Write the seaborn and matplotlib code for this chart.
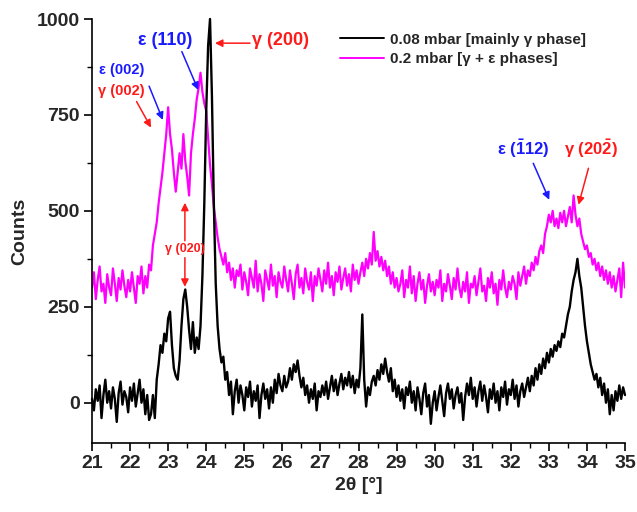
import numpy as np
import pandas as pd
import matplotlib
matplotlib.use("Agg")
import matplotlib.pyplot as plt
import seaborn as sns

# ---------------- data (2theta from 21.00 to 35.00, step 0.05) ----------------
black_counts = [
    # 21.xx
    10, -20, 35, 5, 45, -40, 20, 60, 0, 30, -15, 40, 10, -50, 25, 55, -5, 30, 15, -25,
    # 22.xx
    40, 5, 50, -10, 25, 60, 0, 35, -30, 20, -45, -30, 20, -40, 60, 100, 150, 130, 180, 160,
    # 23.xx
    220, 237, 150, 90, 70, 60, 110, 200, 270, 295, 250, 190, 140, 210, 130, 170, 140, 200, 330, 520,
    # 24.xx
    760, 930, 1000, 800, 520, 310, 200, 140, 105, 120, 60, 80, 20, 55, -30, 30, 60, 0, 45, 20,
    # 25.xx
    -20, 40, 15, 55, -10, 30, 5, 45, -40, 20, 50, 10, 35, -15, 40, 0, 60, 25, 75, 45,
    # 26.xx
    30, 70, 40, 55, 90, 60, 100, 80, 110, 70, 40, 65, 20, 45, 0, 35, 10, 50, -20, 30,
    # 27.xx
    15, 45, 20, 55, 10, 40, 70, 30, 60, 20, 50, 75, 35, 65, 45, 80, 40, 70, 25, 60,
    # 28.xx
    40, 90, 230, 60, -10, 40, 20, 55, 70, 45, 85, 60, 100, 75, 115, 80, 55, 90, 30, 60,
    # 29.xx
    15, 45, 5, 35, -15, 40, 20, 55, 0, 30, -20, 40, 10, -30, 25, 50, -10, 20, -55, 0,
    # 30.xx
    30, -20, 15, 45, 5, -35, 25, 50, 10, 35, -15, 20, 40, 0, 25, -45, 15, 50, 20, 65,
    # 31.xx
    10, 40, -10, 30, 55, 5, 45, 15, -25, 35, 10, 50, 0, 30, -20, 40, 15, 55, -5, 35,
    # 32.xx
    20, 60, 10, 45, -10, 30, 50, 15, 40, 65, 30, 70, 45, 90, 60, 100, 75, 115, 90, 130,
    # 33.xx
    105, 140, 120, 150, 135, 160, 145, 180, 170, 200, 230, 250, 290, 320, 340, 375, 330, 300, 250, 200,
    # 34.xx
    160, 130, 100, 80, 60, 75, 40, 65, 20, 50, 0, 35, -30, 20, -20, 30, 5, 45, 10, 40,
    # 35.00
    20,
]

pink_counts = [
    # 21.xx
    300, 340, 270, 320, 355, 290, 310, 260, 335, 300, 280, 350, 310, 265, 325, 295, 345, 305, 275, 320,
    # 22.xx
    290, 340, 300, 260, 330, 310, 355, 285, 330, 300, 360, 345, 410, 440, 470, 520, 560, 600, 650, 700,
    # 23.xx
    770, 700, 660, 600, 550, 600, 650, 610, 700, 630, 590, 540, 650, 700, 740, 790, 820, 860, 810, 780,
    # 24.xx
    760, 690, 620, 570, 510, 470, 430, 400, 380, 360, 390, 340, 365, 320, 350, 300, 345, 330, 360, 295,
    # 25.xx
    340, 315, 280, 350, 325, 300, 370, 290, 335, 310, 265, 345, 320, 295, 360, 305, 330, 275, 340, 315,
    # 26.xx
    300, 355, 320, 290, 345, 310, 270, 335, 360, 300, 325, 285, 350, 315, 295, 340, 265, 330, 305, 350,
    # 27.xx
    320, 290, 345, 310, 365, 300, 330, 280, 340, 315, 355, 295, 325, 350, 305, 335, 290, 360, 320, 345,
    # 28.xx
    310, 340, 365, 330, 375, 350, 390, 360, 445, 370, 395, 355, 380, 345, 370, 330, 355, 310, 340, 300,
    # 29.xx
    325, 290, 310, 345, 275, 320, 300, 355, 285, 330, 265, 310, 340, 295, 320, 260, 305, 335, 290, 315,
    # 30.xx
    280, 320, 300, 345, 265, 310, 290, 335, 305, 270, 325, 295, 350, 300, 275, 315, 290, 340, 260, 310,
    # 31.xx
    300, 330, 280, 315, 350, 290, 305, 265, 325, 300, 340, 285, 310, 255, 320, 295, 345, 300, 275, 315,
    # 32.xx
    295, 330, 310, 270, 340, 305, 330, 355, 310, 345, 330, 365, 345, 380, 360, 395, 410, 390, 440, 460,
    # 33.xx
    490, 470, 500, 460, 480, 455, 495, 470, 500, 460, 485, 510, 470, 540, 490, 460, 480, 440, 420, 400,
    # 34.xx
    410, 380, 390, 360, 375, 345, 365, 330, 355, 320, 345, 310, 340, 300, 330, 290, 320, 350, 275, 365,
    # 35.00
    300,
]

two_theta_start, two_theta_end = 21.0, 35.0
series_labels = ["0.08 mbar [mainly \u03b3 phase]", "0.2 mbar [\u03b3 + \u03b5 phases]"]
x_ticks = list(range(21, 36))
y_ticks = [0, 250, 500, 750, 1000]

# ---------------- build frame ----------------
tt_black = np.linspace(two_theta_start, two_theta_end, len(black_counts))
tt_pink = np.linspace(two_theta_start, two_theta_end, len(pink_counts))
df_black = pd.DataFrame({"tt": tt_black, "counts": black_counts})
df_pink = pd.DataFrame({"tt": tt_pink, "counts": pink_counts})

sns.set_theme(style="ticks")
plt.rcParams["font.family"] = ["Liberation Sans", "DejaVu Sans"]
plt.rcParams["mathtext.fontset"] = "custom"
plt.rcParams["mathtext.rm"] = "Liberation Sans:bold"
plt.rcParams["mathtext.bf"] = "Liberation Sans:bold"
plt.rcParams["mathtext.it"] = "Liberation Sans:bold"

fig = plt.figure(figsize=(6.37, 5.12), dpi=100)
ax = fig.add_axes([92 / 637, 69 / 512, (625 - 92) / 637, (443 - 19) / 512])

sns.lineplot(data=df_pink, x="tt", y="counts", ax=ax, color="#ff00ff", lw=1.6,
             estimator=None, sort=False, label=series_labels[1], zorder=2)
sns.lineplot(data=df_black, x="tt", y="counts", ax=ax, color="black", lw=1.7,
             estimator=None, sort=False, label=series_labels[0], zorder=3, clip_on=False)

ax.set_xlim(21, 35)
ax.set_ylim(-105, 1000)
ax.set_xticks(x_ticks)
ax.set_yticks(y_ticks)
ax.set_xticks(np.arange(21.5, 35, 1), minor=True)
ax.set_yticks([-125 + 250 * i for i in range(1, 5)], minor=True)
ax.tick_params(axis="both", which="major", direction="out", length=6, width=1.2,
               labelsize=14, color="black", pad=3)
ax.tick_params(axis="both", which="minor", direction="out", length=3.5, width=1.0, color="black")
for lbl in ax.get_xticklabels() + ax.get_yticklabels():
    lbl.set_fontweight("bold")
for s in ["top", "right"]:
    ax.spines[s].set_visible(False)
for s in ["left", "bottom"]:
    ax.spines[s].set_linewidth(1.2)
    ax.spines[s].set_color("black")

ax.set_xlabel("2\u03b8 [\u00b0]", fontsize=14, fontweight="bold", labelpad=3)
ax.set_ylabel("Counts", fontsize=14, fontweight="bold", labelpad=6)

# legend
handles, labels = ax.get_legend_handles_labels()
order = [labels.index(series_labels[0]), labels.index(series_labels[1])]
leg = ax.legend([handles[i] for i in order], [labels[i] for i in order],
                loc="upper left", bbox_to_anchor=(326 / 637, 1 - 19 / 512),
                bbox_transform=fig.transFigure, frameon=False,
                handlelength=2.9, handletextpad=0.4, labelspacing=0.35,
                prop={"size": 11, "weight": "bold"})
for h in leg.get_lines():
    h.set_linewidth(1.4)

blue = "#1a1aff"
red = "#ff1a1a"

def arrow(xy_from, xy_to, color):
    ax.annotate("", xy=xy_to, xytext=xy_from,
                arrowprops=dict(arrowstyle="-|>", color=color, lw=1.1,
                                mutation_scale=11, shrinkA=0, shrinkB=0),
                annotation_clip=False)

# annotations
ax.text(22.92, 945, "\u03b5 (110)", color=blue, fontsize=13, fontweight="bold",
        ha="center", va="center")
arrow((23.36, 915), (23.79, 815), blue)

ax.text(25.2, 945, "\u03b3 (200)", color=red, fontsize=13, fontweight="bold",
        ha="left", va="center")
arrow((25.15, 937), (24.23, 937), red)

ax.text(21.78, 867, "\u03b5 (002)", color=blue, fontsize=10.5, fontweight="bold",
        ha="center", va="center")
arrow((22.50, 825), (22.86, 737), blue)

ax.text(21.78, 813, "\u03b3 (002)", color=red, fontsize=10.5, fontweight="bold",
        ha="center", va="center")
arrow((22.17, 785), (22.55, 717), red)

ax.text(23.44, 400, "\u03b3 (020)", color=red, fontsize=9, fontweight="bold",
        ha="center", va="center")
arrow((23.44, 422), (23.44, 521), red)
arrow((23.44, 378), (23.44, 302), red)

ax.text(32.32, 662, "\u03b5 ($\\bar{1}$12)", color=blue, fontsize=12, fontweight="bold",
        ha="center", va="center")
arrow((32.59, 624), (33.01, 529), blue)

ax.text(34.11, 662, "\u03b3 (20$\\bar{2}$)", color=red, fontsize=12, fontweight="bold",
        ha="center", va="center")
arrow((34.04, 611), (33.78, 516), red)

fig.savefig("out.png", dpi=100)
